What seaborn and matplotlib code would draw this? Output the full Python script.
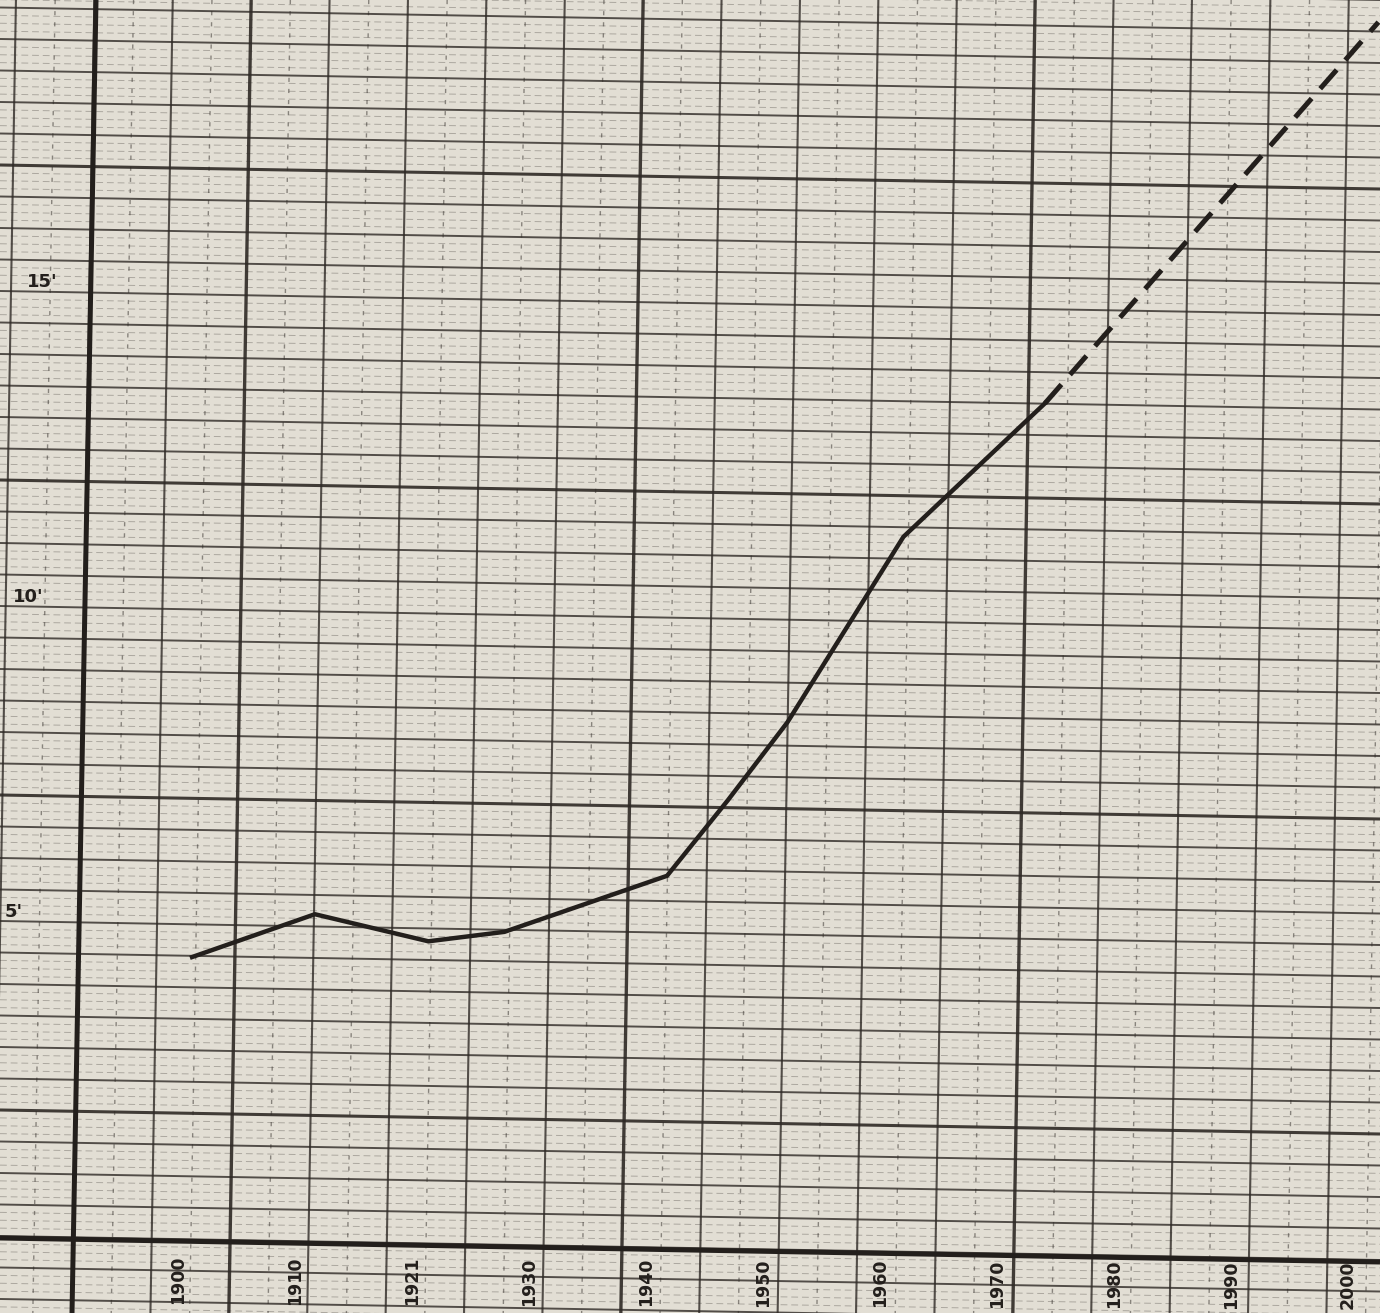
import matplotlib
matplotlib.use("Agg")
import matplotlib.pyplot as plt
from matplotlib.collections import LineCollection
import seaborn as sns

# curve (year, value in the sheet's units)
years = [1901.2, 1911.7, 1921.4, 1927.9, 1941.8, 1947.0, 1952.1, 1962.0, 1974.1]
values = [4.38, 5.06, 4.63, 4.78, 5.67, 6.87, 8.11, 11.05, 13.17]

# dashed projection
proj_years = [1974.1, 2002.6]
proj_values = [13.17, 19.22]

year_ticks = [1900, 1910, 1920, 1930, 1940, 1950, 1960, 1970, 1980, 1990, 2000]
year_labels = ["1900", "1910", "1921", "1930", "1940", "1950", "1960", "1970", "1980", "1990", "2000"]
value_ticks = [15, 10, 5]
value_labels = ["15'", "10'", "5'"]

paper = "#e2ded4"
ink = "#231f1c"
grid_ink = "#2e2925"

W, H = 1380, 1313
fig = plt.figure(figsize=(W / 100, H / 100), dpi=100, facecolor=paper)

# graph paper, drawn in pixel units, slightly skewed like the photocopy
bg = fig.add_axes([0, 0, 1, 1], zorder=0)
bg.set_xlim(0, W)
bg.set_ylim(H, 0)
bg.axis("off")
bg.set_facecolor(paper)

tv = 0.017   # lean of the verticals
th = 0.0174  # lean of the horizontals


def vline(xm):
    return [(xm + 656 * tv, 0), (xm - (H - 656) * tv, H)]


def hline(ym):
    return [(0, ym - 690 * th), (W, ym + (W - 690) * th)]


major_v, minor_v, half_v = [], [], []
for k in range(-3, 16):
    xm = 240 + 78.4 * k
    (major_v if k % 5 == 0 else minor_v).append(vline(xm))
    half_v.append(vline(xm + 39.2))

major_h, minor_h, fine_h = [], [], []
for k in range(-21, 24):
    ym = 618 + 31.5 * k
    (major_h if (k - 6) % 10 == 0 else minor_h).append(hline(ym))
    for f in (1, 2, 3):
        fine_h.append(hline(ym + 31.5 * f / 4))

bg.add_collection(LineCollection(fine_h, colors=grid_ink, linewidths=0.7,
                                 alpha=0.3, linestyles=(0, (7, 4))))
bg.add_collection(LineCollection(half_v, colors=grid_ink, linewidths=1.0,
                                 alpha=0.5, linestyles=(0, (3, 5))))
bg.add_collection(LineCollection(minor_h, colors=grid_ink, linewidths=1.4, alpha=0.8))
bg.add_collection(LineCollection(minor_v, colors=grid_ink, linewidths=1.5, alpha=0.8))
bg.add_collection(LineCollection(major_h, colors=grid_ink, linewidths=2.2, alpha=0.9))
bg.add_collection(LineCollection(major_v, colors=grid_ink, linewidths=2.4, alpha=0.9))

# hand drawn axes
bg.plot([96, 72], [0, H], color=ink, lw=3.6, solid_capstyle="butt")
bg.plot([0, W], [1238, 1262], color=ink, lw=3.6, solid_capstyle="butt")

# data axes on top
ax = fig.add_axes([0, 0, 1, 1], zorder=1)
ax.patch.set_alpha(0)
ax.set_xlim(1900 - 178 / 11.7, 1900 + (W - 178) / 11.7)
ax.set_ylim((1233 - H) / 63, 1233 / 63)
ax.axis("off")

sns.lineplot(x=years, y=values, ax=ax, color=ink, linewidth=3.2)
sns.lineplot(x=proj_years, y=proj_values, ax=ax, color=ink, linewidth=3.6,
             linestyle=(0, (5, 2.6)))
ax.lines[-1].set_dash_capstyle("butt")

# value labels along the left edge
label_x = [42, 28, 14]
for px, v, lab in zip(label_x, value_ticks, value_labels):
    ax.text(px / W, v + 0.1, lab, transform=ax.get_yaxis_transform(),
            ha="center", va="center", fontsize=13, fontweight="bold", color=ink)

# rotated year labels along the bottom
for yr, lab in zip(year_ticks, year_labels):
    px = 178 + 11.7 * (yr - 1900)
    top = 1256 + (px - 178) * 0.004
    ax.text(yr, 1 - top / H, lab, transform=ax.get_xaxis_transform(),
            rotation=90, ha="center", va="top", fontsize=12.5,
            fontweight="bold", color=ink)

fig.savefig("out.png", dpi=100, facecolor=paper)
